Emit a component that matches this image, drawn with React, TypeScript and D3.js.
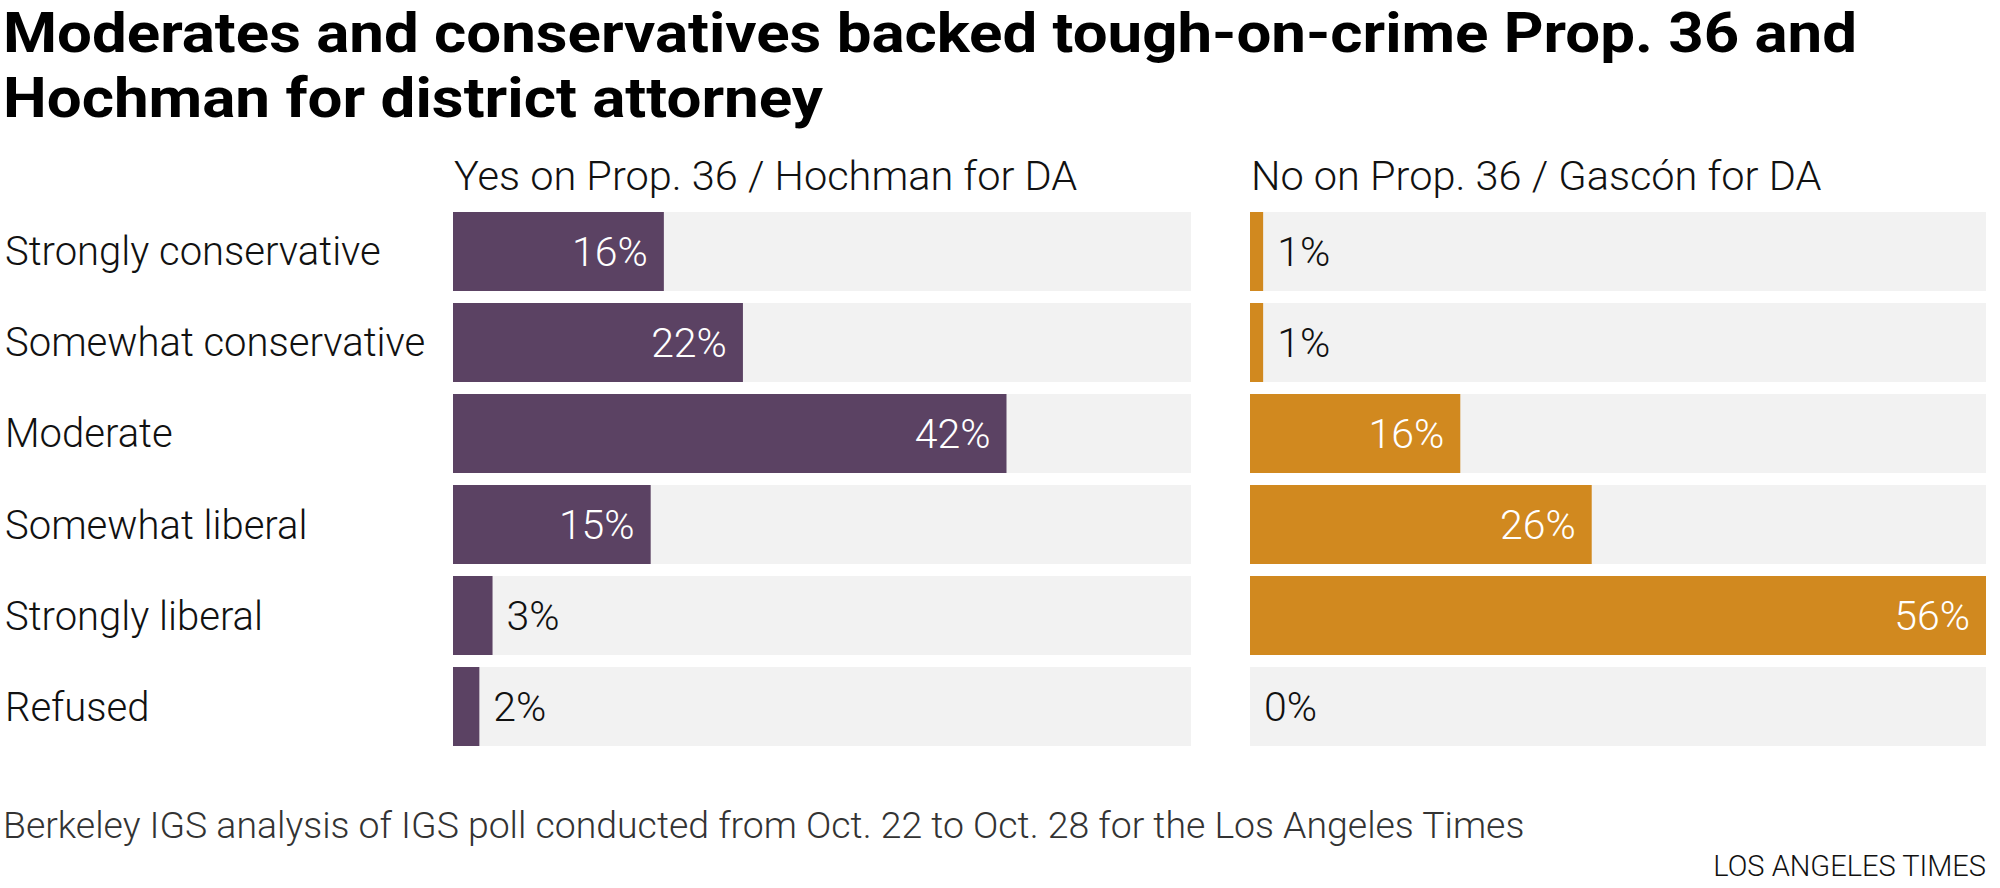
import React, { useEffect } from "react";
import * as d3 from "d3";

const categories = [
  "Strongly conservative",
  "Somewhat conservative",
  "Moderate",
  "Somewhat liberal",
  "Strongly liberal",
  "Refused",
];
const yesValues = [16, 22, 42, 15, 3, 2];
const noValues = [1, 1, 16, 26, 56, 0];
const panelTitles = ["Yes on Prop. 36 / Hochman for DA", "No on Prop. 36 / Gascón for DA"];
const titleLines = [
  "Moderates and conservatives backed tough-on-crime Prop. 36 and",
  "Hochman for district attorney",
];
const footnote = "Berkeley IGS analysis of IGS poll conducted from Oct. 22 to Oct. 28 for the Los Angeles Times";
const credit = "LOS ANGELES TIMES";

const W = 2000;
const H = 888;
const FONT = "Roboto, 'Open Sans', sans-serif";
const colors = ["#5b4263", "#d1891f"];
const trackColor = "#f2f2f2";
const titleWidths = [1854, 820];

export default function App() {
  useEffect(() => {
    document.body.style.margin = "0";
  }, []);

  const y = d3
    .scaleBand<string>()
    .domain(categories)
    .range([212, 746])
    .paddingInner(0.132)
    .paddingOuter(0);

  const maxV = d3.max([...yesValues, ...noValues]) as number;
  const panels = [
    { title: panelTitles[0], values: yesValues, color: colors[0], x: d3.scaleLinear().domain([0, maxV]).range([453, 1191]) },
    { title: panelTitles[1], values: noValues, color: colors[1], x: d3.scaleLinear().domain([0, maxV]).range([1250, 1986]) },
  ];

  return (
    <svg width={W} height={H} style={{ display: "block", background: "#fff" }} fontFamily={FONT}>
      {titleLines.map((t, i) => (
        <text
          key={i}
          x={3}
          y={52 + i * 65}
          fontSize={55}
          fontWeight={700}
          fill="#000"
          textLength={titleWidths[i]}
          lengthAdjust="spacingAndGlyphs"
        >
          {t}
        </text>
      ))}
      {categories.map((c) => (
        <text key={c} x={5} y={(y(c) as number) + y.bandwidth() / 2} dy="0.35em" fontSize={40} fontWeight={300} fill="#111">
          {c}
        </text>
      ))}
      {panels.map((p, pi) => (
        <g key={pi}>
          <text x={p.x(0) + 1} y={190} fontSize={41.5} fontWeight={300} fill="#111">
            {p.title}
          </text>
          {categories.map((c, i) => {
            const v = p.values[i];
            const yy = y(c) as number;
            const inside = v >= 10;
            return (
              <g key={c}>
                <rect x={p.x(0)} y={yy} width={p.x(maxV) - p.x(0)} height={y.bandwidth()} fill={trackColor} />
                {v > 0 && <rect x={p.x(0)} y={yy} width={p.x(v) - p.x(0)} height={y.bandwidth()} fill={p.color} />}
                <text
                  x={inside ? p.x(v) - 16 : p.x(v) + 14}
                  y={yy + y.bandwidth() / 2}
                  dy="0.35em"
                  textAnchor={inside ? "end" : "start"}
                  fontSize={41}
                  fontWeight={300}
                  fill={inside ? "#fff" : "#111"}
                >
                  {v}%
                </text>
              </g>
            );
          })}
        </g>
      ))}
      <text x={3} y={838} fontSize={37.4} fontWeight={300} fill="#333">
        {footnote}
      </text>
      <text x={1986} y={876} textAnchor="end" fontSize={29} fontWeight={300} fill="#111">
        {credit}
      </text>
    </svg>
  );
}
